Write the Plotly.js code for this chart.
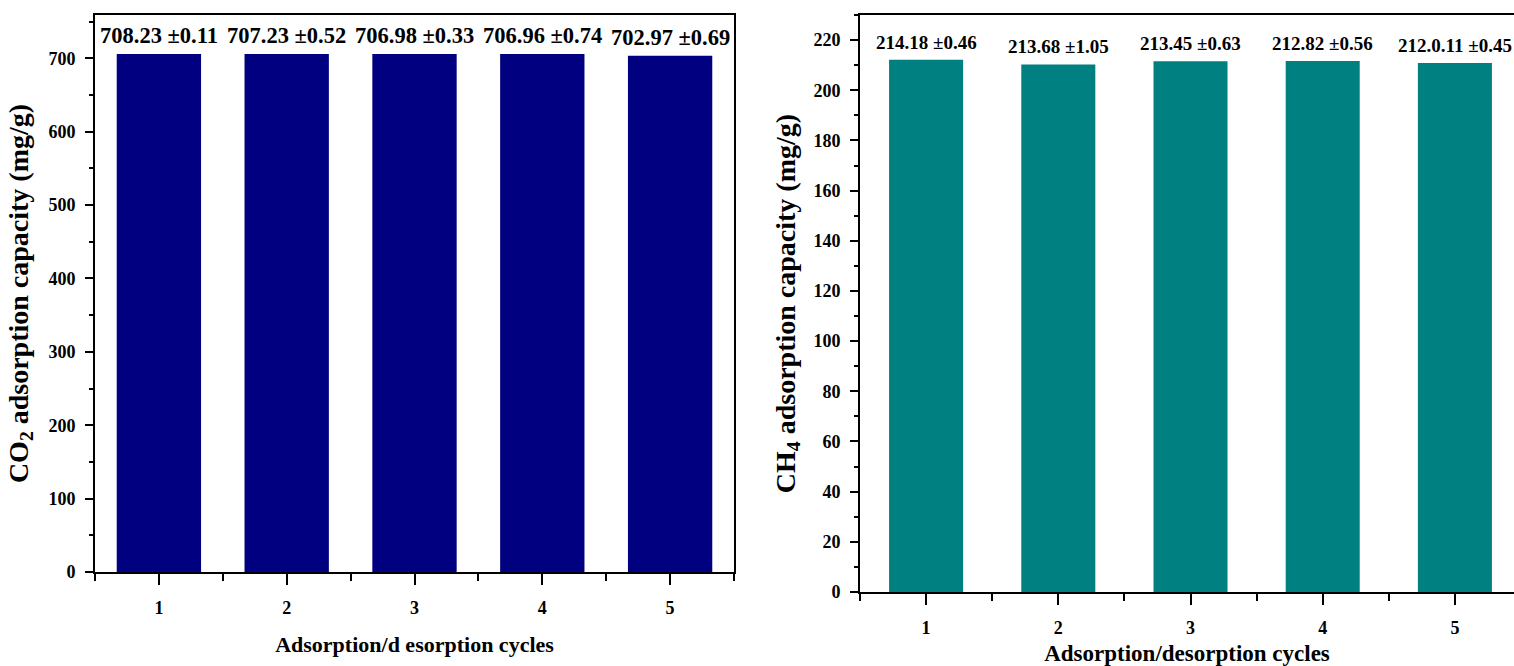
<!DOCTYPE html>
<html>
<head>
<meta charset="utf-8">
<script src="https://cdn.plot.ly/plotly-3.0.1.min.js"></script>
<style>
  html, body { margin: 0; padding: 0; background: #fff; }
  #chart { width: 1514px; height: 666px; }
</style>
</head>
<body>
<div id="chart"></div>
<script>
// ---- data ----
const cycles = [1, 2, 3, 4, 5];
const co2Capacity = [706.0, 705.8, 705.8, 705.8, 703.4];
const co2Labels = ["708.23 ±0.11", "707.23 ±0.52", "706.98 ±0.33", "706.96 ±0.74", "702.97 ±0.69"];
const ch4Capacity = [212.2, 210.3, 211.6, 211.7, 210.9];
const ch4Labels = ["214.18 ±0.46", "213.68 ±1.05", "213.45 ±0.63", "212.82 ±0.56", "212.0.11 ±0.45"];
const cycleTickLabels = ["1", "2", "3", "4", "5"];

const FONT = "Liberation Serif, Times New Roman, serif";
const W = 1514, H = 666;

const traces = [
  {
    type: "bar", x: cycles, y: co2Capacity, width: 0.66,
    marker: { color: "#000080", line: { width: 0 } },
    xaxis: "x", yaxis: "y", hoverinfo: "x+y", showlegend: false
  },
  {
    type: "bar", x: cycles, y: ch4Capacity, width: 0.56,
    marker: { color: "#008080", line: { width: 0 } },
    xaxis: "x2", yaxis: "y2", hoverinfo: "x+y", showlegend: false
  }
];

const annotations = [];
cycles.forEach((c, i) => {
  annotations.push({
    x: c, y: co2Capacity[i], xref: "x", yref: "y",
    text: co2Labels[i], showarrow: false, yanchor: "bottom", yshift: 4,
    font: { family: FONT, size: 22.5, color: "#000", weight: "bold" }
  });
  annotations.push({
    x: c, y: ch4Capacity[i], xref: "x2", yref: "y2",
    text: ch4Labels[i], showarrow: false, yanchor: "bottom", yshift: 5,
    font: { family: FONT, size: 19, color: "#000", weight: "bold" }
  });
});

const tickFont = { family: FONT, size: 18, color: "#000", weight: "bold" };
const titleFontY = { family: FONT, size: 28, color: "#000", weight: "bold" };

function xAxis(domain, range, anchor, titleText, standoff, tsize) {
  return {
    domain: domain, range: range, anchor: anchor,
    tickmode: "array", tickvals: cycles, ticktext: cycleTickLabels,
    ticks: "outside", ticklen: 11, tickwidth: 2, tickcolor: "#000",
    minor: { tick0: 0.5, dtick: 1, ticks: "outside", ticklen: 7, tickwidth: 2, tickcolor: "#000" },
    showline: true, linecolor: "#000", linewidth: 2, mirror: true,
    showgrid: false, zeroline: false, tickfont: tickFont, ticklabelstandoff: 7,
    title: { text: titleText, font: { family: FONT, size: tsize, color: "#000", weight: "bold" }, standoff: standoff },
    fixedrange: true
  };
}
function yAxis(domain, range, anchor, dtick, minorDtick, titleText, standoff, mirror) {
  return {
    domain: domain, range: range, anchor: anchor,
    tick0: 0, dtick: dtick,
    ticks: "outside", ticklen: 8, tickwidth: 2, tickcolor: "#000",
    minor: { dtick: minorDtick, ticks: "outside", ticklen: 4, tickwidth: 2, tickcolor: "#000" },
    showline: true, linecolor: "#000", linewidth: 2, mirror: mirror,
    showgrid: false, zeroline: false, tickfont: tickFont, ticklabelstandoff: 6,
    title: { text: titleText, font: titleFontY, standoff: standoff },
    fixedrange: true
  };
}

const layout = {
  width: W, height: H,
  margin: { l: 0, r: 0, t: 0, b: 0, pad: 0 },
  paper_bgcolor: "#fff", plot_bgcolor: "#fff",
  bargap: 0.3,
  xaxis: xAxis([95 / W, 734 / W], [0.5, 5.5], "y", "Adsorption/d esorption cycles", 20, 22),
  yaxis: yAxis([94 / H, 651 / H], [0, 759], "x", 100, 50,
    "CO<sub>2</sub> adsorption capacity (mg/g)", 12, true),
  xaxis2: xAxis([860 / W, 1], [0.5, 5.447], "y2", "Adsorption/desorption cycles", 16, 23),
  yaxis2: yAxis([74 / H, 651 / H], [0, 230], "x2", 20, 10,
    "CH<sub>4</sub> adsorption capacity (mg/g)", 10, false),
  annotations: annotations
};

Plotly.newPlot("chart", traces, layout, { displayModeBar: false, staticPlot: true });
</script>
</body>
</html>
